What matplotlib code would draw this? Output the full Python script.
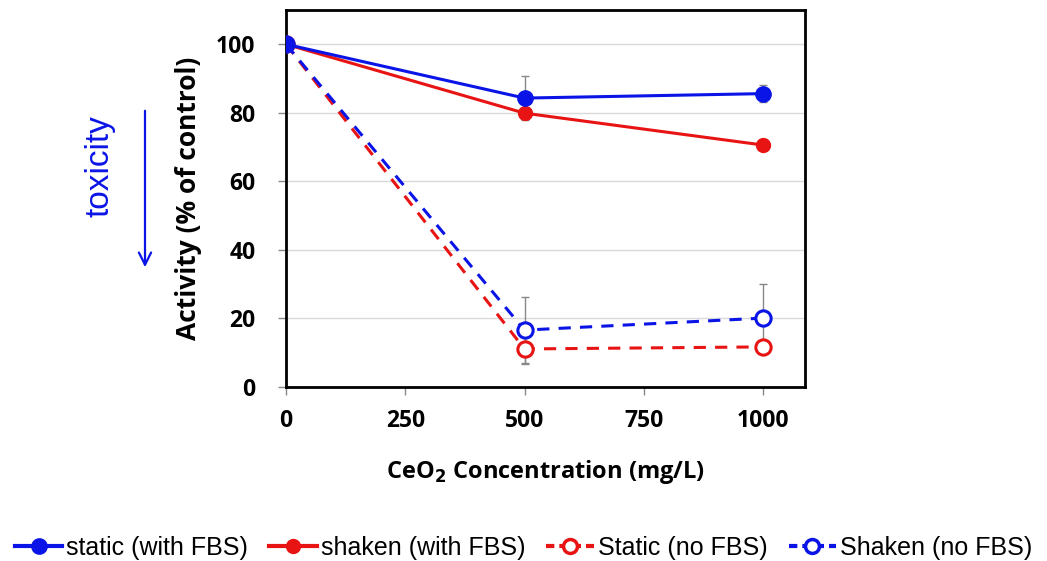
import matplotlib
matplotlib.use("Agg")
import matplotlib.pyplot as plt
from matplotlib.lines import Line2D

conc = [0, 500, 1000]
static_fbs = [100, 84.3, 85.6]
static_fbs_err = [0, 6.5, 2.5]
shaken_fbs = [100, 79.9, 70.6]
shaken_fbs_err = [0, 0, 0]
static_nofbs = [100, 11.1, 11.7]
static_nofbs_err = [0, 4.0, 0]
shaken_nofbs = [100, 16.6, 20.1]
shaken_nofbs_err = [0, 9.8, 10.0]
x_ticks = [0, 250, 500, 750, 1000]
y_ticks = [0, 20, 40, 60, 80, 100]
labels = ["static (with FBS)", "shaken (with FBS)", "Static (no FBS)", "Shaken (no FBS)"]

BLUE = "#0a14e6"
RED = "#e81414"

fig = plt.figure(figsize=(10.47, 5.61), dpi=100)
ax = fig.add_axes([286/1047, 1-387/561, (805-286)/1047, (387-10)/561])

font = "Open Sans"

def errs(x, y, e):
    ax.errorbar(x, y, yerr=e, fmt="none", ecolor="#888888", elinewidth=1.0,
                capsize=3, capthick=1.0, zorder=2)

errs(conc, static_fbs, static_fbs_err)
errs(conc, static_nofbs, static_nofbs_err)
errs(conc, shaken_nofbs, shaken_nofbs_err)

ax.plot(conc, shaken_fbs, color=RED, lw=2.2, marker="o", ms=10, zorder=3)
ax.plot(conc, static_fbs, color=BLUE, lw=2.2, marker="o", ms=11, zorder=4)
ax.plot(conc, static_nofbs, color=RED, lw=2.2, ls=(0, (4, 3)), marker="o", ms=11,
        mfc="white", mew=2.2, zorder=3)
ax.plot(conc, shaken_nofbs, color=BLUE, lw=2.2, ls=(0, (4, 3)), marker="o", ms=11,
        mfc="white", mew=2.2, zorder=3)
ax.plot([0], [static_fbs[0]], color=BLUE, marker="o", ms=11, zorder=5, ls="none")

ax.set_xlim(0, 1088)
ax.set_ylim(0, 110)
ax.set_xticks(x_ticks)
ax.set_yticks(y_ticks)
ax.yaxis.grid(True, color="#d9d9d9", lw=1)
ax.set_axisbelow(True)
for s in ax.spines.values():
    s.set_linewidth(2)
    s.set_color("black")
ax.tick_params(direction="out", length=6, width=1, color="#888888")
for t in ax.get_xticklabels() + ax.get_yticklabels():
    t.set_fontfamily(font)
    t.set_fontweight("bold")
    t.set_fontsize(16.5)
ax.tick_params(axis="x", pad=10)
ax.tick_params(axis="y", pad=16)

ax.set_xlabel("CeO$_\\mathbf{2}$ Concentration (mg/L)", fontfamily=font,
              fontweight="bold", fontsize=17, labelpad=18)
ax.set_ylabel("Activity (% of control)", fontfamily=font, fontweight="bold",
              fontsize=19, labelpad=10)

fig.text(100/1047, 1-166/561, "toxicity", rotation=90, color=BLUE, fontsize=24,
         fontfamily="Liberation Sans", ha="center", va="center")
fig.add_artist(plt.Annotation("", xy=(145/1047, 1-270/561), xytext=(145/1047, 1-108/561),
                              xycoords="figure fraction", textcoords="figure fraction",
                              arrowprops=dict(arrowstyle="->", color=BLUE, lw=1.6,
                                              mutation_scale=22)))

handles = [
    Line2D([], [], color=BLUE, lw=3, marker="o", ms=11),
    Line2D([], [], color=RED, lw=3, marker="o", ms=10),
    Line2D([], [], color=RED, lw=3, ls=(0, (2, 1.2)), marker="o", ms=10, mfc="white", mew=2.5),
    Line2D([], [], color=BLUE, lw=3, ls=(0, (2, 1.2)), marker="o", ms=10, mfc="white", mew=2.5),
]
fig.legend(handles, labels, loc="center", bbox_to_anchor=(0.5, 1-548/561), ncol=4,
           frameon=False, prop={"family": "Liberation Sans", "size": 18},
           handlelength=1.9, handletextpad=0.15, columnspacing=0.85)

fig.savefig("out.png", dpi=100)
